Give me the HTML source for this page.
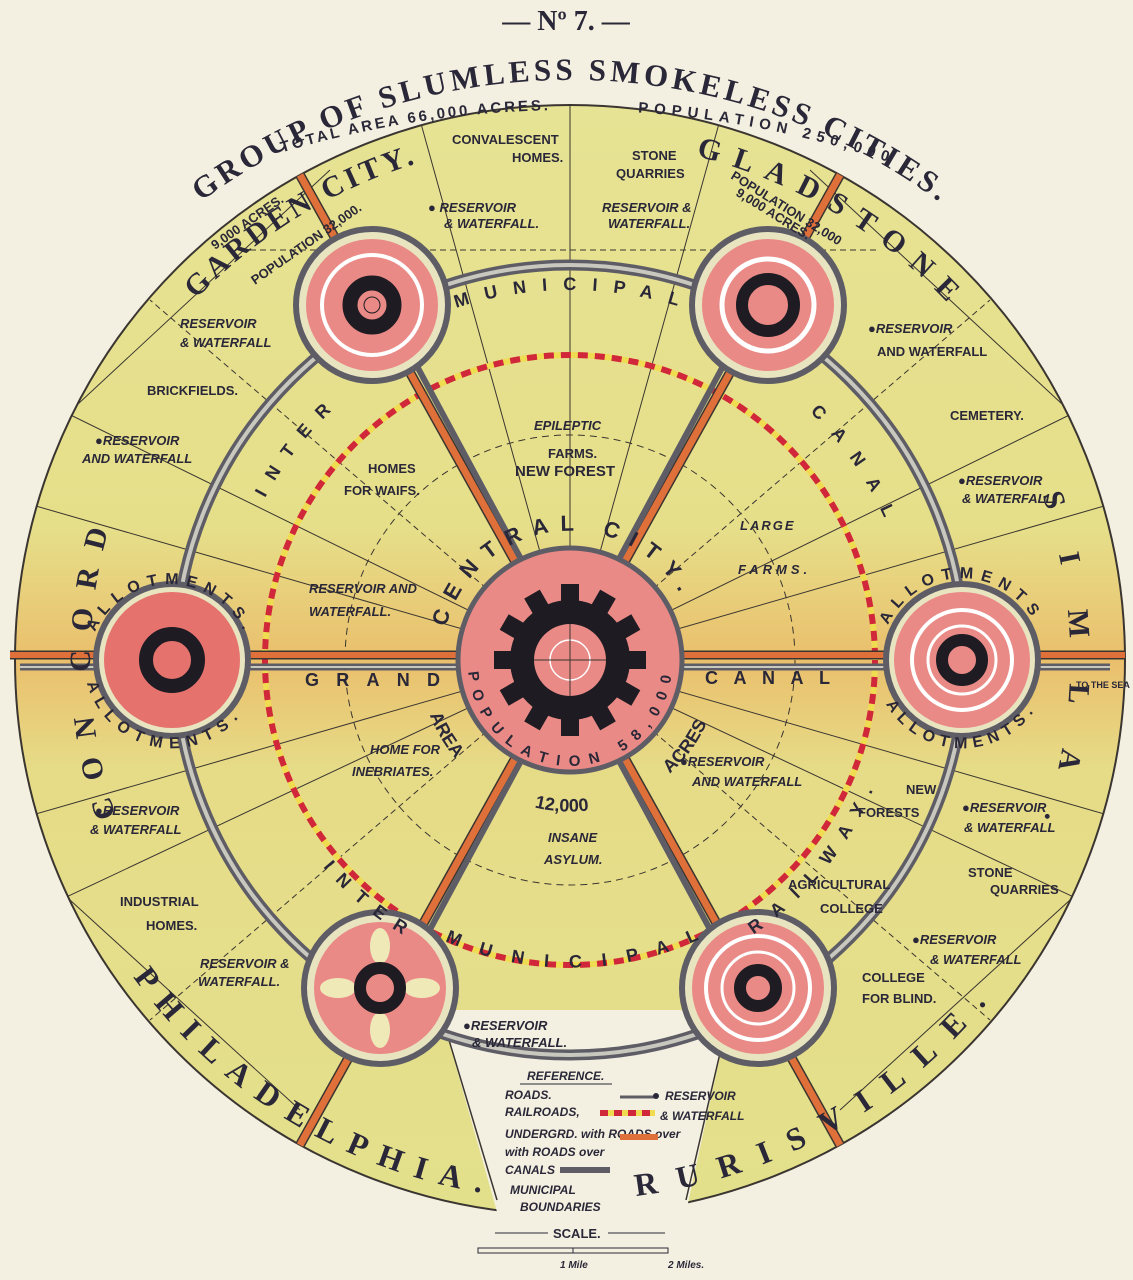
<!DOCTYPE html>
<html><head><meta charset="utf-8"><style>
html,body{margin:0;padding:0;background:#f4f0e1;}
svg{display:block}
text{font-family:"Liberation Sans",sans-serif;font-weight:bold;fill:#2a2838;}
.s{font-size:13px}
.i{font-style:italic}
.serif{font-family:"Liberation Serif",serif;}
</style></head><body>
<svg width="1133" height="1280" viewBox="0 0 1133 1280" xmlns="http://www.w3.org/2000/svg">
<defs>
<linearGradient id="g" x1="0" y1="0" x2="0" y2="1">
<stop offset="0" stop-color="#e6e394"/><stop offset="0.38" stop-color="#e6df8a"/>
<stop offset="0.5" stop-color="#eabf6c"/><stop offset="0.6" stop-color="#e6dc88"/>
<stop offset="1" stop-color="#e3e08c"/></linearGradient>
<path id="pTitle" d="M33,390 A620,620 0 0 1 1107,390"/>
<path id="pSub" d="M200,181 A1000,1000 0 0 1 940,181"/>
<path id="pGarden" d="M196,299 A520,520 0 0 1 480,148"/>
<path id="pGlad" d="M696,156 A520,520 0 0 1 956,312"/>
<path id="pConcord" d="M116,816 A480,480 0 0 1 109,528"/>
<path id="pSimla" d="M1037,481 A500,500 0 0 1 1037,839"/>
<path id="pPhil" d="M133,977 A540,540 0 0 0 504,1196"/>
<path id="pRuris" d="M636,1196 A540,540 0 0 0 1001,985"/>
<path id="pMun" d="M456,308 A370,370 0 0 1 684,308"/>
<path id="pInterL" d="M265,498 A345,345 0 0 1 339,404"/>
<path id="pCanalR" d="M810,412 A345,345 0 0 1 890,531"/>
<path id="pInterB" d="M323,867 A322,322 0 0 0 419,944"/>
<path id="pMunB" d="M445,941 A308,308 0 0 0 714,932"/>
<path id="pRail" d="M745,940 A330,330 0 0 0 887,751"/>
<path id="pCentral" d="M446,627 A128,128 0 0 1 694,627"/>
<path id="pPop" d="M468,664 A102,102 0 0 0 672,664"/>
<path id="pArea" d="M422,686 A150,150 0 0 0 718,686"/>
<path id="pAL1" d="M95,632 A82,82 0 0 1 249,646"/>
<path id="pAL2" d="M87,683 A88,88 0 0 0 257,683"/>
<path id="pAR1" d="M888,625 A82,82 0 0 1 1039,632"/>
<path id="pAR2" d="M886,704 A88,88 0 0 0 1050,668"/>
<clipPath id="cc"><circle cx="570" cy="660" r="555"/></clipPath>
</defs>
<rect width="1133" height="1280" fill="#f4f0e1"/>
<circle cx="570" cy="660" r="555" fill="url(#g)" stroke="#3a3530" stroke-width="2"/>
<polygon points="440,1010 730,1010 680,1240 505,1240" fill="#f4f0e1"/>
<line x1="440" y1="1010" x2="497" y2="1200" stroke="#3a3530" stroke-width="1.5"/>
<line x1="730" y1="1010" x2="686" y2="1200" stroke="#3a3530" stroke-width="1.5"/>
<g clip-path="url(#cc)" stroke="#3a3530" stroke-width="1" fill="none">
<line x1="570" y1="660" x2="570" y2="100"/>
<line x1="570" y1="660" x2="1125" y2="500"/>
<line x1="570" y1="660" x2="1125" y2="820"/>
<line x1="570" y1="660" x2="15" y2="500"/>
<line x1="570" y1="660" x2="15" y2="820"/>
<line x1="570" y1="660" x2="150" y2="300" stroke-dasharray="6 4"/>
<line x1="570" y1="660" x2="990" y2="300" stroke-dasharray="6 4"/>
<line x1="570" y1="660" x2="150" y2="1020" stroke-dasharray="6 4"/>
<line x1="570" y1="660" x2="990" y2="1020" stroke-dasharray="6 4"/>
<line x1="570" y1="660" x2="420" y2="120"/>
<line x1="570" y1="660" x2="720" y2="120"/>
<line x1="570" y1="660" x2="40" y2="400"/>
<line x1="570" y1="660" x2="1100" y2="400"/>
<line x1="570" y1="660" x2="60" y2="900"/>
<line x1="570" y1="660" x2="1080" y2="900"/>
<line x1="250" y1="250" x2="880" y2="250" stroke-dasharray="6 4"/>
<line x1="50" y1="430" x2="330" y2="170"/>
<line x1="1090" y1="430" x2="810" y2="170"/>
<line x1="70" y1="900" x2="300" y2="1110"/>
<line x1="1070" y1="900" x2="840" y2="1110"/>
<circle cx="570" cy="660" r="225" stroke-dasharray="7 5"/>
</g>
<circle cx="570" cy="660" r="305" fill="none" stroke="#f0dc50" stroke-width="6"/>
<circle cx="570" cy="660" r="305" fill="none" stroke="#d0283a" stroke-width="6" stroke-dasharray="10 7"/>
<circle cx="570" cy="660" r="395" fill="none" stroke="#5e5d66" stroke-width="11"/>
<circle cx="570" cy="660" r="395" fill="none" stroke="#c9c8bf" stroke-width="4"/>
<g stroke-linecap="butt">
<line x1="300" y1="175" x2="840" y2="1145" stroke="#3a3530" stroke-width="10"/>
<line x1="300" y1="175" x2="840" y2="1145" stroke="#e0703a" stroke-width="7"/>
<line x1="840" y1="175" x2="300" y2="1145" stroke="#3a3530" stroke-width="10"/>
<line x1="840" y1="175" x2="300" y2="1145" stroke="#e0703a" stroke-width="7"/>
<line x1="384" y1="305" x2="570" y2="650" stroke="#5e5d66" stroke-width="6"/>
<line x1="756" y1="305" x2="570" y2="650" stroke="#5e5d66" stroke-width="6"/>
<line x1="570" y1="670" x2="400" y2="985" stroke="#5e5d66" stroke-width="6"/>
<line x1="570" y1="670" x2="740" y2="985" stroke="#5e5d66" stroke-width="6"/>
<line x1="10" y1="655" x2="1125" y2="655" stroke="#3a3530" stroke-width="9"/>
<line x1="10" y1="655" x2="1125" y2="655" stroke="#e0703a" stroke-width="6"/>
<line x1="20" y1="667" x2="1110" y2="667" stroke="#5e5d66" stroke-width="7"/>
<line x1="20" y1="667" x2="1110" y2="667" stroke="#c9c8bf" stroke-width="2"/>
</g>
<g>
<g transform="translate(372,305)">
<circle r="76" fill="#e8e4c0" stroke="#5e5d66" stroke-width="6"/><circle r="66" fill="#ea8a86"/>
<circle r="50" fill="none" stroke="#fff" stroke-width="4"/><circle r="22" fill="none" stroke="#1e1c22" stroke-width="15"/>
<circle r="8" fill="#ea8a86" stroke="#1e1c22"/></g>
<g transform="translate(768,305)">
<circle r="76" fill="#e8e4c0" stroke="#5e5d66" stroke-width="6"/><circle r="66" fill="#ea8a86"/>
<circle r="46" fill="none" stroke="#fff" stroke-width="5"/><circle r="26" fill="none" stroke="#1e1c22" stroke-width="12"/></g>
<g transform="translate(172,660)">
<circle r="76" fill="#e8e4c0" stroke="#5e5d66" stroke-width="6"/><circle r="68" fill="#e6726e"/>
<circle r="26" fill="none" stroke="#1e1c22" stroke-width="14"/></g>
<g transform="translate(962,660)">
<circle r="76" fill="#e8e4c0" stroke="#5e5d66" stroke-width="6"/><circle r="68" fill="#ea8a86"/>
<circle r="50" fill="none" stroke="#fff" stroke-width="4"/><circle r="34" fill="none" stroke="#fff" stroke-width="3"/>
<circle r="20" fill="none" stroke="#1e1c22" stroke-width="12"/></g>
<g transform="translate(380,988)">
<circle r="76" fill="#e8e4c0" stroke="#5e5d66" stroke-width="6"/><circle r="66" fill="#ea8a86"/>
<ellipse cx="0" cy="-42" rx="10" ry="18" fill="#efe9b8"/><ellipse cx="0" cy="42" rx="10" ry="18" fill="#efe9b8"/>
<ellipse cx="-42" cy="0" rx="18" ry="10" fill="#efe9b8"/><ellipse cx="42" cy="0" rx="18" ry="10" fill="#efe9b8"/>
<circle r="20" fill="none" stroke="#1e1c22" stroke-width="12"/></g>
<g transform="translate(758,988)">
<circle r="76" fill="#e8e4c0" stroke="#5e5d66" stroke-width="6"/><circle r="66" fill="#ea8a86"/>
<circle r="52" fill="none" stroke="#fff" stroke-width="4"/><circle r="36" fill="none" stroke="#fff" stroke-width="3"/>
<circle r="18" fill="none" stroke="#1e1c22" stroke-width="12"/></g>
</g>
<g transform="translate(570,660)">
<circle r="112" fill="#ea8a86" stroke="#5e5d66" stroke-width="5"/>
<g fill="#1e1c22">
<circle r="60"/>
<rect x="-9" y="-76" width="18" height="20"/><rect x="-9" y="-76" width="18" height="20" transform="rotate(30)"/>
<rect x="-9" y="-76" width="18" height="20" transform="rotate(60)"/><rect x="-9" y="-76" width="18" height="20" transform="rotate(90)"/>
<rect x="-9" y="-76" width="18" height="20" transform="rotate(120)"/><rect x="-9" y="-76" width="18" height="20" transform="rotate(150)"/>
<rect x="-9" y="-76" width="18" height="20" transform="rotate(180)"/><rect x="-9" y="-76" width="18" height="20" transform="rotate(210)"/>
<rect x="-9" y="-76" width="18" height="20" transform="rotate(240)"/><rect x="-9" y="-76" width="18" height="20" transform="rotate(270)"/>
<rect x="-9" y="-76" width="18" height="20" transform="rotate(300)"/><rect x="-9" y="-76" width="18" height="20" transform="rotate(330)"/>
</g>
<circle r="36" fill="#ea8a86"/><circle r="20" fill="none" stroke="#fff" stroke-width="1.5"/>
<line x1="-36" y1="0" x2="36" y2="0" stroke="#3a3530"/><line x1="0" y1="-36" x2="0" y2="36" stroke="#3a3530"/>
</g>
<text x="566" y="30" class="serif" font-size="28" text-anchor="middle">— Nº 7. —</text>
<text class="serif" font-size="31"><textPath href="#pTitle" startOffset="50%" text-anchor="middle" textLength="790" lengthAdjust="spacing">GROUP OF SLUMLESS SMOKELESS CITIES.</textPath></text>
<text font-size="15"><textPath href="#pSub" startOffset="87" textLength="270" lengthAdjust="spacing">TOTAL AREA 66,000 ACRES.</textPath></text>
<text font-size="15"><textPath href="#pSub" startOffset="447" textLength="255" lengthAdjust="spacing">POPULATION 250,000</textPath></text>
<g class="serif" font-size="30">
<text class="serif"><textPath href="#pGarden" textLength="260" lengthAdjust="spacing">GARDEN CITY.</textPath></text>
<text class="serif"><textPath href="#pGlad" textLength="295" lengthAdjust="spacing">GLADSTONE</textPath></text>
<text class="serif"><textPath href="#pConcord" textLength="290" lengthAdjust="spacing">CON CORD</textPath></text>
<text class="serif"><textPath href="#pSimla" startOffset="15" textLength="330" lengthAdjust="spacing">SIMLA.</textPath></text>
<text class="serif" font-size="32"><textPath href="#pPhil" textLength="420" lengthAdjust="spacing">PHILADELPHIA.</textPath></text>
<text class="serif" font-size="32"><textPath href="#pRuris" textLength="410" lengthAdjust="spacing">RURISVILLE.</textPath></text>
</g>
<g font-size="18">
<text><textPath href="#pMun" textLength="225" lengthAdjust="spacing">MUNICIPAL</textPath></text>
<text><textPath href="#pInterL" textLength="110" lengthAdjust="spacing">INTER</textPath></text>
<text><textPath href="#pCanalR" textLength="130" lengthAdjust="spacing">CANAL</textPath></text>
<text><textPath href="#pInterB" textLength="105" lengthAdjust="spacing">INTER</textPath></text>
<text><textPath href="#pMunB" textLength="262" lengthAdjust="spacing">MUNICIPAL</textPath></text>
<text><textPath href="#pRail" startOffset="10" textLength="190" lengthAdjust="spacing">RAILWAY.</textPath></text>
<text font-size="22"><textPath href="#pCentral" textLength="300" lengthAdjust="spacing">CENTRAL CITY.</textPath></text>
<text font-size="15"><textPath href="#pPop" startOffset="8" textLength="300" lengthAdjust="spacing">POPULATION 58,000</textPath></text>
<text><textPath href="#pArea" startOffset="30">AREA</textPath></text>
<text><textPath href="#pArea" startOffset="175">12,000</textPath></text>
<text><textPath href="#pArea" startOffset="320">ACRES</textPath></text>
<text font-size="16"><textPath href="#pAL1" textLength="185" lengthAdjust="spacing">ALLOTMENTS.</textPath></text>
<text font-size="16"><textPath href="#pAL2" textLength="190" lengthAdjust="spacing">ALLOTMENTS.</textPath></text>
<text font-size="16"><textPath href="#pAR1" textLength="175" lengthAdjust="spacing">ALLOTMENTS</textPath></text>
<text font-size="16"><textPath href="#pAR2" textLength="175" lengthAdjust="spacing">ALLOTMENTS.</textPath></text>
<text x="305" y="686" textLength="135" lengthAdjust="spacing">GRAND</text>
<text x="705" y="684" textLength="125" lengthAdjust="spacing">CANAL</text>
</g>
<g font-size="13">
<text x="215" y="250" transform="rotate(-35 215 250)">9,000 ACRES.</text>
<text x="255" y="285" transform="rotate(-35 255 285)">POPULATION 32,000.</text>
<text x="735" y="195" transform="rotate(32 735 195)">9,000 ACRES.</text>
<text x="730" y="178" transform="rotate(32 730 178)">POPULATION 32,000</text>
</g>
<g class="s">
<text x="452" y="144" class="s">CONVALESCENT</text><text x="512" y="162" class="s">HOMES.</text>
<text x="632" y="160" class="s">STONE</text><text x="616" y="178" class="s">QUARRIES</text>
<text x="428" y="212" class="s i">● RESERVOIR</text><text x="444" y="228" class="s i">&amp; WATERFALL.</text>
<text x="602" y="212" class="s i">RESERVOIR &amp;</text><text x="608" y="228" class="s i">WATERFALL.</text>
<text x="180" y="328" class="s i">RESERVOIR</text><text x="180" y="347" class="s i">&amp; WATERFALL</text>
<text x="147" y="395" class="s">BRICKFIELDS.</text>
<text x="95" y="445" class="s i">●RESERVOIR</text><text x="82" y="463" class="s i">AND WATERFALL</text>
<text x="368" y="473" class="s">HOMES</text><text x="344" y="495" class="s">FOR WAIFS.</text>
<text x="534" y="430" class="s i">EPILEPTIC</text><text x="548" y="458" class="s">FARMS.</text>
<text x="515" y="476" font-size="15">NEW FOREST</text>
<text x="740" y="530" class="s i" letter-spacing="2">LARGE</text><text x="738" y="574" class="s i" letter-spacing="4">FARMS.</text>
<text x="309" y="593" class="s i">RESERVOIR AND</text><text x="309" y="616" class="s i">WATERFALL.</text>
<text x="868" y="333" class="s i">●RESERVOIR</text><text x="877" y="356" class="s">AND WATERFALL</text>
<text x="950" y="420" class="s">CEMETERY.</text>
<text x="958" y="485" class="s i">●RESERVOIR</text><text x="962" y="503" class="s i">&amp; WATERFALL</text>
<text x="1076" y="688" font-size="9">TO THE SEA</text>
<text x="370" y="754" class="s i">HOME FOR</text><text x="352" y="776" class="s i">INEBRIATES.</text>
<text x="548" y="842" class="s i">INSANE</text><text x="544" y="864" class="s i">ASYLUM.</text>
<text x="680" y="766" class="s i">●RESERVOIR</text><text x="692" y="786" class="s i">AND WATERFALL</text>
<text x="906" y="794" class="s">NEW</text><text x="858" y="817" class="s">FORESTS</text>
<text x="962" y="812" class="s i">●RESERVOIR</text><text x="964" y="832" class="s i">&amp; WATERFALL</text>
<text x="95" y="815" class="s i">●RESERVOIR</text><text x="90" y="834" class="s i">&amp; WATERFALL</text>
<text x="968" y="877" class="s">STONE</text><text x="990" y="894" class="s">QUARRIES</text>
<text x="788" y="889" class="s">AGRICULTURAL</text><text x="820" y="913" class="s">COLLEGE</text>
<text x="120" y="906" class="s">INDUSTRIAL</text><text x="146" y="930" class="s">HOMES.</text>
<text x="912" y="944" class="s i">●RESERVOIR</text><text x="930" y="964" class="s i">&amp; WATERFALL</text>
<text x="862" y="982" class="s">COLLEGE</text><text x="862" y="1003" class="s">FOR BLIND.</text>
<text x="200" y="968" class="s i" font-size="12">RESERVOIR &amp;</text><text x="198" y="986" class="s i" font-size="12">WATERFALL.</text>
<text x="463" y="1030" class="s i">●RESERVOIR</text><text x="472" y="1047" class="s i">&amp; WATERFALL.</text>
</g>
<g font-size="12">
<text x="527" y="1080" class="i">REFERENCE.</text>
<line x1="520" y1="1084" x2="612" y2="1084" stroke="#2a2838"/>
<text x="505" y="1099" class="i">ROADS.</text>
<line x1="620" y1="1097" x2="655" y2="1097" stroke="#5e5d66" stroke-width="3"/>
<text x="505" y="1116" class="i">RAILROADS,</text>
<line x1="600" y1="1113" x2="655" y2="1113" stroke="#f0dc50" stroke-width="6"/>
<line x1="600" y1="1113" x2="655" y2="1113" stroke="#d0283a" stroke-width="6" stroke-dasharray="8 6"/>
<text x="505" y="1138" class="i">UNDERGRD. with ROADS over</text>
<text x="505" y="1156" class="i">with ROADS over</text>
<rect x="620" y="1134" width="38" height="6" fill="#e0703a"/>
<text x="505" y="1174" class="i">CANALS</text>
<line x1="560" y1="1170" x2="610" y2="1170" stroke="#5e5d66" stroke-width="6"/>
<text x="510" y="1194" class="i">MUNICIPAL</text><text x="520" y="1211" class="i">BOUNDARIES</text>
<text x="665" y="1100" class="i">RESERVOIR</text><text x="660" y="1120" class="i">&amp; WATERFALL</text>
<circle cx="656" cy="1096" r="3" fill="#2a2838"/>
<text x="553" y="1238" font-size="13">SCALE.</text>
<line x1="495" y1="1233" x2="548" y2="1233" stroke="#2a2838"/><line x1="608" y1="1233" x2="665" y2="1233" stroke="#2a2838"/>
<rect x="478" y="1248" width="190" height="5" fill="none" stroke="#2a2838"/>
<line x1="573" y1="1248" x2="573" y2="1253" stroke="#2a2838"/>
<text x="560" y="1268" font-size="10" class="i">1 Mile</text><text x="668" y="1268" font-size="10" class="i">2 Miles.</text>
</g>
</svg>
</body></html>
